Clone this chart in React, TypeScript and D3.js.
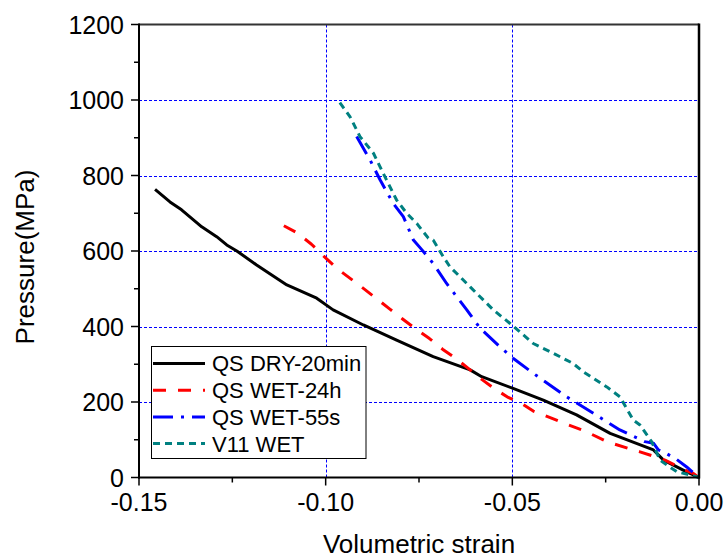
import React from "react";
import * as d3 from "d3";

const dryX = [-0.1457, -0.1417, -0.1386, -0.1332, -0.1292, -0.1265, -0.1238, -0.1185, -0.1104, -0.1024, -0.098, -0.0899, -0.081, -0.0712, -0.0613, -0.0582, -0.0498, -0.0417, -0.0328, -0.0238, -0.0122, -0.0095, -0.0033, 0];
const dryY = [763, 730, 709, 664, 638, 616, 600, 563, 510, 475, 444, 404, 364, 320, 285, 267, 236, 205, 166, 117, 73, 46, 15, 0];

const wet24X = [-0.1112, -0.1078, -0.1038, -0.1006, -0.097, -0.0899, -0.0828, -0.0794, -0.0758, -0.0722, -0.0687, -0.0651, -0.0618, -0.0582, -0.0546, -0.0511, -0.0475, -0.0444, -0.0372, -0.0301, -0.0247, -0.0176, -0.0158, -0.0118, -0.0091, -0.0047, -0.0016, 0];
const wet24Y = [667, 649, 618, 587, 554, 501, 446, 420, 393, 368, 340, 315, 289, 260, 234, 212, 196, 176, 148, 121, 95, 73, 68, 55, 46, 24, 11, 0];

const wet55X = [-0.0917, -0.0881, -0.0854, -0.0819, -0.0792, -0.0765, -0.0742, -0.0712, -0.0676, -0.0622, -0.0586, -0.0533, -0.0498, -0.0444, -0.0355, -0.0283, -0.0212, -0.0145, -0.0122, -0.0109, -0.0095, -0.006, -0.0033, 0];
const wet55Y = [903, 841, 788, 726, 691, 629, 603, 567, 514, 444, 395, 346, 316, 276, 214, 170, 126, 95, 91, 73, 68, 48, 28, 0];

const v11X = [-0.0962, -0.0935, -0.0908, -0.0872, -0.0846, -0.081, -0.0783, -0.0756, -0.0725, -0.0712, -0.0685, -0.0667, -0.0613, -0.0551, -0.0506, -0.0444, -0.039, -0.0337, -0.031, -0.0247, -0.0212, -0.0176, -0.0158, -0.0127, -0.0104, -0.0086, -0.0059, -0.0024, 0];
const v11Y = [993, 956, 903, 859, 806, 735, 700, 673, 634, 629, 585, 558, 505, 444, 408, 355, 329, 302, 280, 240, 214, 152, 139, 95, 46, 33, 15, 7, 0];

const seriesNames = ["QS DRY-20min", "QS WET-24h", "QS WET-55s", "V11 WET"];
const seriesColors = ["#000000", "#ff0000", "#0000ff", "#008080"];
const seriesDash = ["", "13,12", "20,8,3,8", "7,5"];

const xTicks = [-0.15, -0.1, -0.05, 0];
const xTickLabels = ["-0.15", "-0.10", "-0.05", "0.00"];
const yTicks = [0, 200, 400, 600, 800, 1000, 1200];
const xMinor = [-0.125, -0.075, -0.025];
const yMinor = [100, 300, 500, 700, 900, 1100];

export default function App() {
  const W = 727, H = 559;
  const x = d3.scaleLinear().domain([-0.15, 0]).range([139, 699]);
  const y = d3.scaleLinear().domain([0, 1200]).range([477.5, 24.5]);
  const line = d3.line<[number, number]>().x(d => x(d[0])).y(d => y(d[1]));
  const data: [number, number][][] = [
    dryX.map((v, i) => [v, dryY[i]]),
    wet24X.map((v, i) => [v, wet24Y[i]]),
    wet55X.map((v, i) => [v, wet55Y[i]]),
    v11X.map((v, i) => [v, v11Y[i]]),
  ];
  const crisp = (v: number) => Math.round(v) + 0.5;
  const font = "Arial, 'Liberation Sans', sans-serif";
  const x0 = 139, x1 = 699, yt = 24.5, yb = 477.5;
  return (
    <svg width={W} height={H} style={{ position: "absolute", left: 0, top: 0, background: "#fff" }} fontFamily={font}>
      <rect x={0} y={0} width={W} height={H} fill="#fff" />
      {/* grid */}
      {[-0.1, -0.05].map(v => (
        <line key={"gx" + v} x1={crisp(x(v))} x2={crisp(x(v))} y1={yt} y2={yb} stroke="#0000ff" strokeWidth={1} strokeDasharray="3,2" />
      ))}
      {[200, 400, 600, 800, 1000].map(v => (
        <line key={"gy" + v} x1={x0} x2={x1} y1={crisp(y(v))} y2={crisp(y(v))} stroke="#0000ff" strokeWidth={1} strokeDasharray="3,2" />
      ))}
      {/* series */}
      {data.map((d, i) => (
        <path key={"s" + i} d={line(d) || ""} fill="none" stroke={seriesColors[i]} strokeWidth={3}
          strokeDasharray={seriesDash[i] || undefined} strokeLinejoin="round" />
      ))}
      {/* frame */}
      <line x1={x0} x2={x1} y1={yt} y2={yt} stroke="#333" strokeWidth={2} />
      <line x1={x1} x2={x1} y1={yt - 1} y2={yb + 1} stroke="#000" strokeWidth={2.5} />
      <line x1={x0} x2={x0} y1={yt - 1} y2={yb + 1} stroke="#000" strokeWidth={2} />
      <line x1={x0 - 1} x2={x1 + 1} y1={yb} y2={yb} stroke="#000" strokeWidth={2} />
      {/* x ticks */}
      {xTicks.map((v, i) => (
        <g key={"xt" + v}>
          <line x1={x(v)} x2={x(v)} y1={yb} y2={yb + 8} stroke="#000" strokeWidth={1.5} />
          <text x={x(v)} y={511} textAnchor="middle" fontSize={25} fill="#000">{xTickLabels[i]}</text>
        </g>
      ))}
      {xMinor.map(v => (
        <line key={"xm" + v} x1={x(v)} x2={x(v)} y1={yb} y2={yb + 5} stroke="#000" strokeWidth={1.5} />
      ))}
      {/* y ticks */}
      {yTicks.map(v => (
        <g key={"yt" + v}>
          <line x1={x0} x2={x0 - 8} y1={y(v)} y2={y(v)} stroke="#000" strokeWidth={1.5} />
          <text x={124} y={y(v)} dy="0.36em" textAnchor="end" fontSize={25} fill="#000">{v}</text>
        </g>
      ))}
      {yMinor.map(v => (
        <line key={"ym" + v} x1={x0} x2={x0 - 5} y1={y(v)} y2={y(v)} stroke="#000" strokeWidth={1.5} />
      ))}
      {/* axis titles */}
      <text x={419} y={553} textAnchor="middle" fontSize={26} fill="#000">Volumetric strain</text>
      <text transform="translate(34,257) rotate(-90)" textAnchor="middle" fontSize={26} fill="#000">Pressure(MPa)</text>
      {/* legend */}
      <rect x={151.5} y={346.5} width={214.5} height={112} fill="#fff" stroke="#000" strokeWidth={1} />
      {seriesNames.map((n, i) => {
        const ly = 363.5 + i * 26.7;
        return (
          <g key={"lg" + i}>
            <line x1={153} x2={205} y1={ly} y2={ly} stroke={seriesColors[i]} strokeWidth={3}
              strokeDasharray={seriesDash[i] || undefined} />
            <text x={212} y={ly} dy="0.36em" fontSize={22} fill="#000">{n}</text>
          </g>
        );
      })}
    </svg>
  );
}
